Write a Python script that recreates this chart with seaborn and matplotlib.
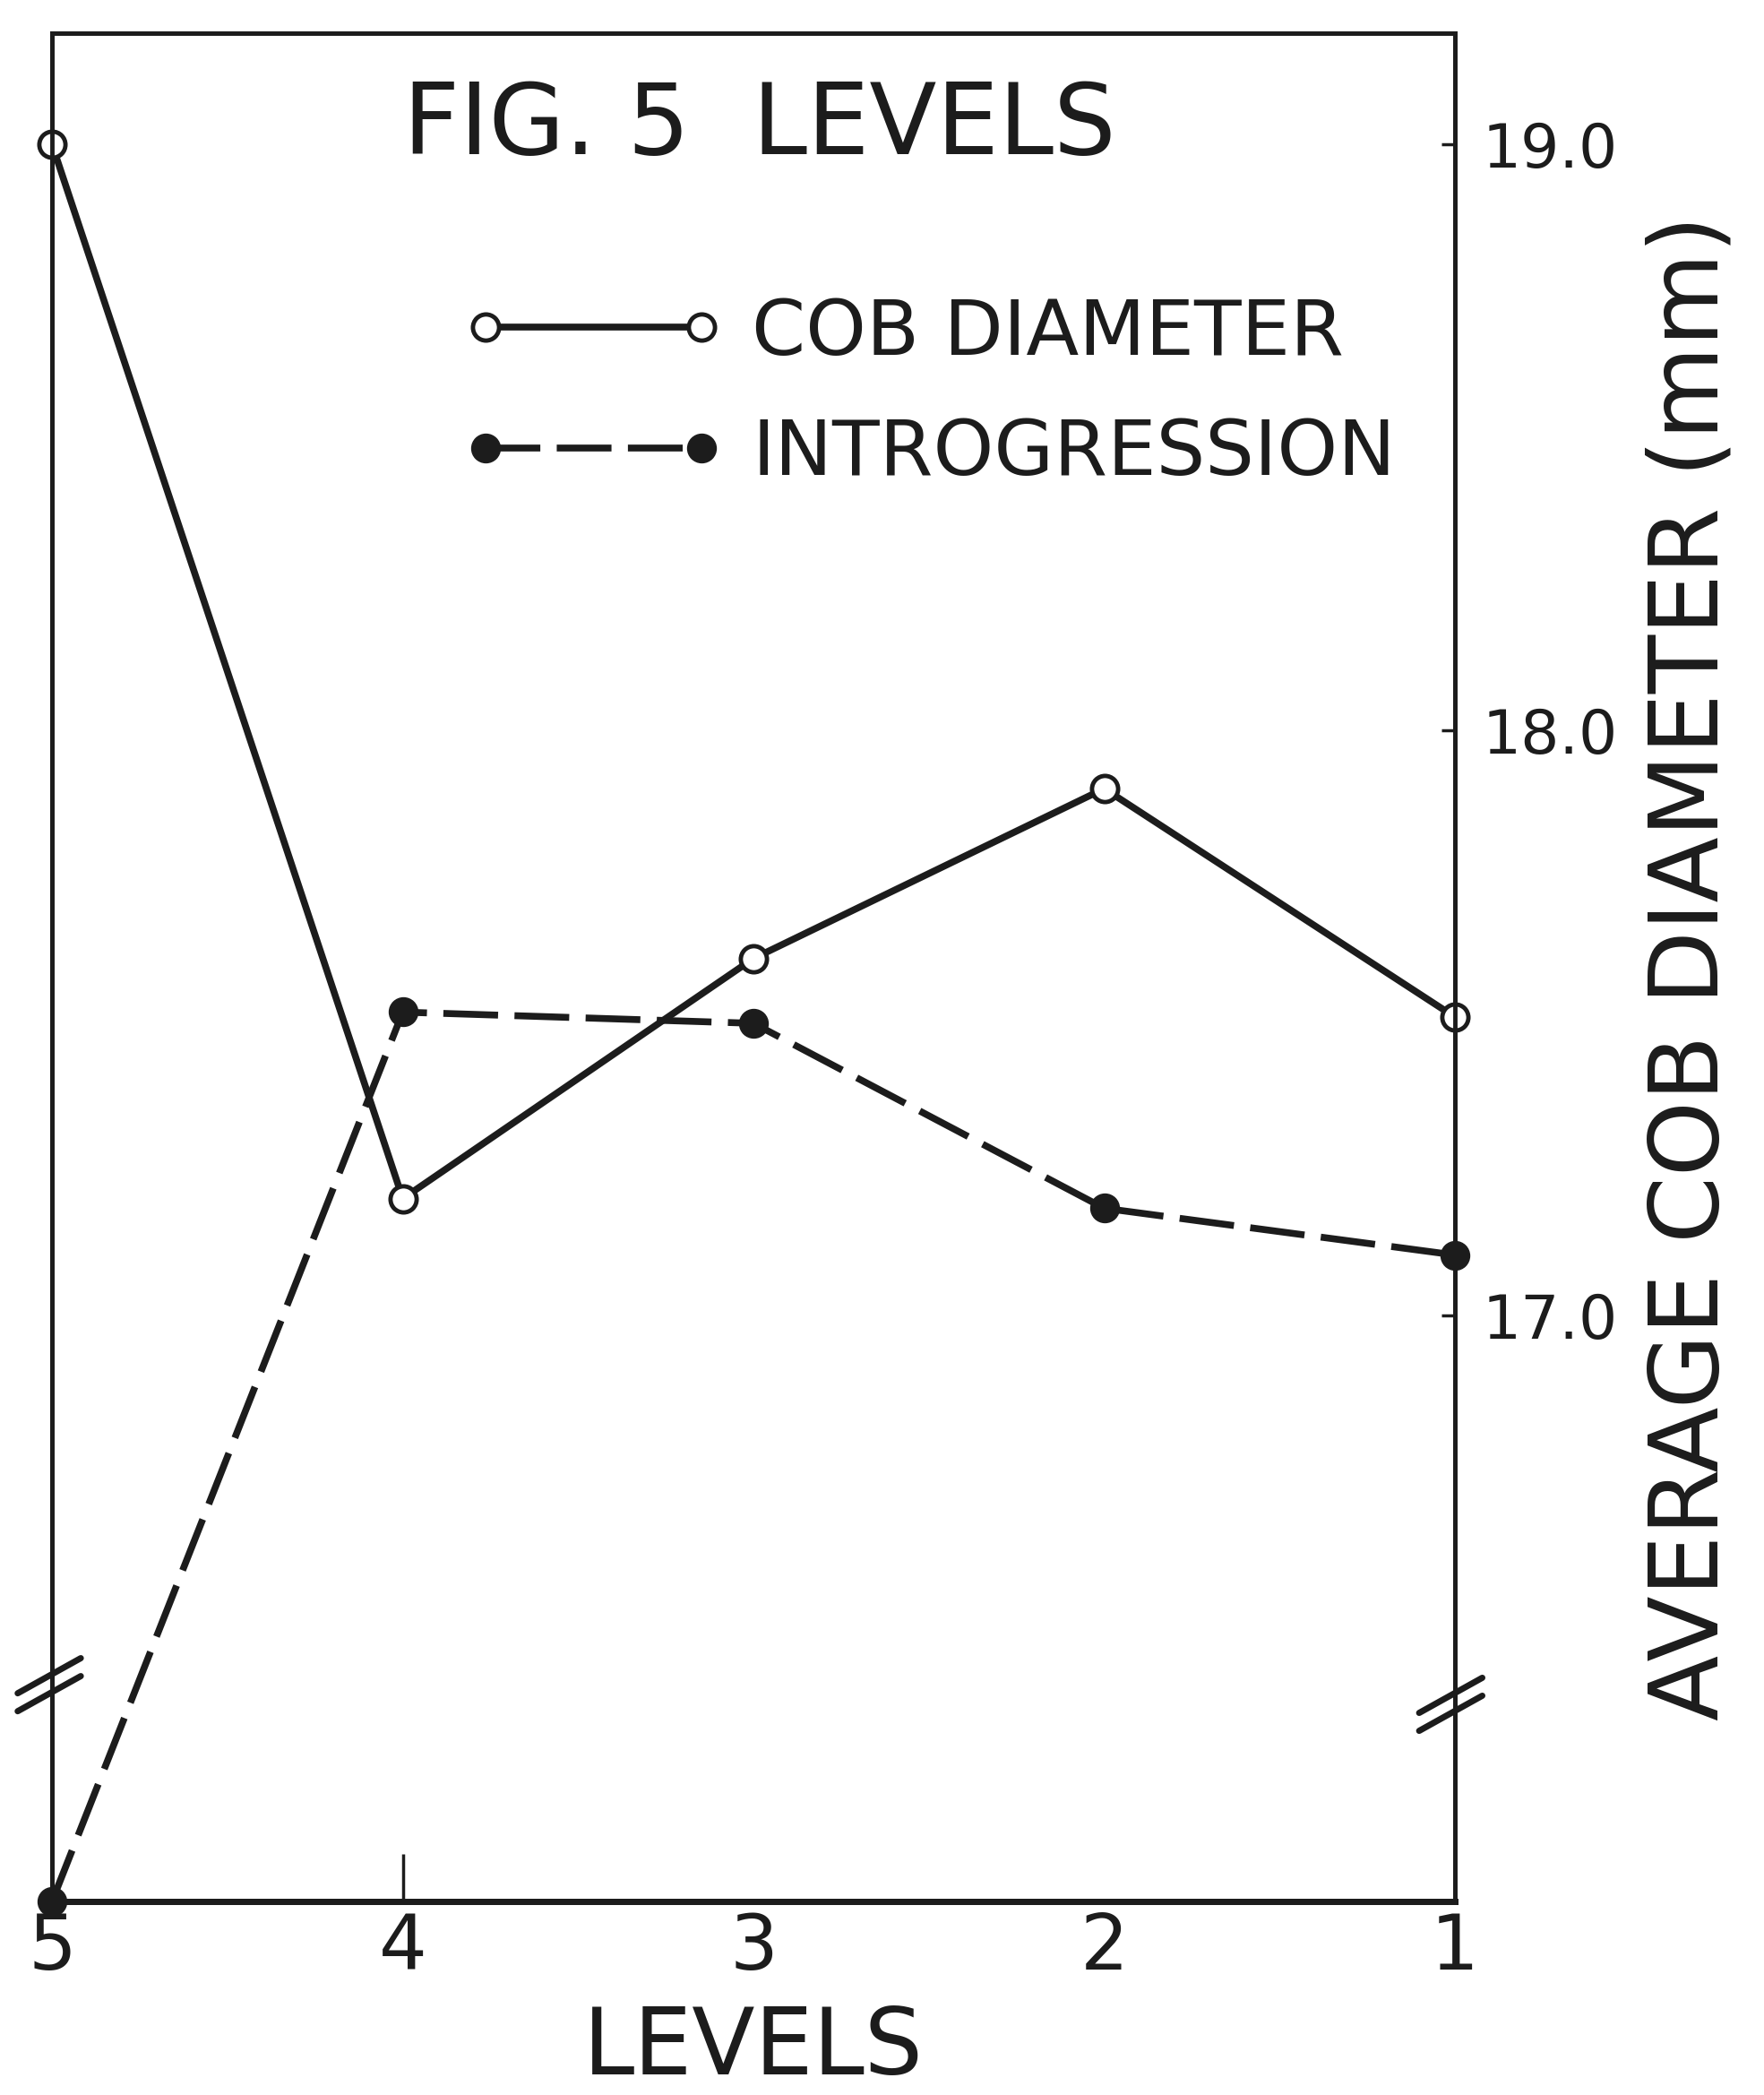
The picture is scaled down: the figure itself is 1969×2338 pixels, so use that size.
import matplotlib
matplotlib.use("Agg")
import matplotlib.pyplot as plt
import seaborn as sns
import pandas as pd

# Levels, read left to right (5 down to 1)
levels = [5, 4, 3, 2, 1]
level_labels = ["5", "4", "3", "2", "1"]

# Average cob diameter (mm) per level
cob_diameter = [19.00, 17.20, 17.61, 17.90, 17.51]

# Relative introgression per level (unlabelled left scale)
introgression = [0.0, 47.6, 47.0, 37.1, 34.6]

# Tick marks on the cob-diameter scale
cob_ticks = [17.0, 18.0, 19.0]
cob_tick_labels = ["17.0", "18.0", "19.0"]

sns.set_style("white")
plt.rcParams["font.family"] = ["DejaVu Sans"]

INK = "#1c1c1c"

df = pd.DataFrame({"level": levels, "cob": cob_diameter, "intro": introgression})

fig = plt.figure(figsize=(19.69, 23.38), dpi=100)
ax = fig.add_axes([0.0295, 0.0924, 0.7953, 0.8918])
ax2 = ax.twinx()

# Introgression: dashed line with filled dots (left scale)
sns.lineplot(data=df, x="level", y="intro", ax=ax, color=INK, lw=5.5,
             linestyle=(0, (8.0, 2.4)), marker="o", markersize=23,
             markerfacecolor=INK, markeredgecolor=INK, markeredgewidth=1,
             clip_on=False, sort=False, label="INTROGRESSION")
# Cob diameter: solid line with open circles (right scale)
sns.lineplot(data=df, x="level", y="cob", ax=ax2, color=INK, lw=5.5,
             marker="o", markersize=21, markerfacecolor="white",
             markeredgecolor=INK, markeredgewidth=3.5,
             clip_on=False, sort=False, label="COB DIAMETER")

intro_line = ax.get_lines()[0]
cob_line = ax2.get_lines()[0]
if ax.get_legend() is not None:
    ax.get_legend().remove()
if ax2.get_legend() is not None:
    ax2.get_legend().remove()

ax.set_xlim(5, 1)
ax.set_ylim(0, 100)
ax2.set_ylim(16.0, 19.19)

# Frame
for a in (ax, ax2):
    for side, sp in a.spines.items():
        sp.set_color(INK)
        sp.set_linewidth(3.5)
ax.spines["bottom"].set_linewidth(5)
ax2.spines["bottom"].set_linewidth(5)

# Left scale carries no ticks
ax.set_yticks([])
ax.set_ylabel("")

# Bottom axis: level numbers; a single inward tick mark at level 4
ax.set_xticks(levels)
ax.set_xticklabels(level_labels, fontsize=61, color=INK)
ax.tick_params(axis="x", which="major", direction="in", length=0,
               pad=8, colors=INK)
ax.xaxis.remove_overlapping_locs = False
ax.set_xticks([4], minor=True)
ax.tick_params(axis="x", which="minor", direction="in", length=38,
               width=2.5, color=INK, bottom=True)
ax.set_xlabel("LEVELS", fontsize=74, color=INK, labelpad=14)

# Right axis: cob diameter scale
ax2.set_yticks(cob_ticks)
ax2.set_yticklabels(cob_tick_labels, fontsize=49, color=INK)
ax2.tick_params(axis="y", direction="in", length=11, width=2.5, pad=22, colors=INK)
ax2.set_ylabel("AVERAGE COB DIAMETER (mm)", fontsize=77, color=INK,
               rotation=90, labelpad=22)

# Heading inside the frame
ax.text(0.504, 0.950, "FIG. 5  LEVELS", transform=ax.transAxes,
        ha="center", va="center", fontsize=79, color=INK)

# Legend
leg = ax2.legend([cob_line, intro_line], ["COB DIAMETER", "INTROGRESSION"],
                 loc="center left", bbox_to_anchor=(0.2925, 0.8070),
                 frameon=False, fontsize=62, numpoints=2, handlelength=3.4,
                 handletextpad=0.35, labelspacing=0.6, borderpad=0,
                 borderaxespad=0)
for txt in leg.get_texts():
    txt.set_color(INK)

# Axis-break marks on both vertical scales
def break_marks(xc, yc):
    dx, dy = 0.0225, 0.0094
    for off in (0.0048, -0.0048):
        ax.plot([xc - dx, xc + dx], [yc + off - dy, yc + off + dy],
                transform=ax.transAxes, color=INK, lw=5,
                solid_capstyle="round", clip_on=False, zorder=5)

break_marks(-0.002, 0.116)
break_marks(0.997, 0.1055)

fig.savefig("out.png", dpi=100, facecolor="white")
